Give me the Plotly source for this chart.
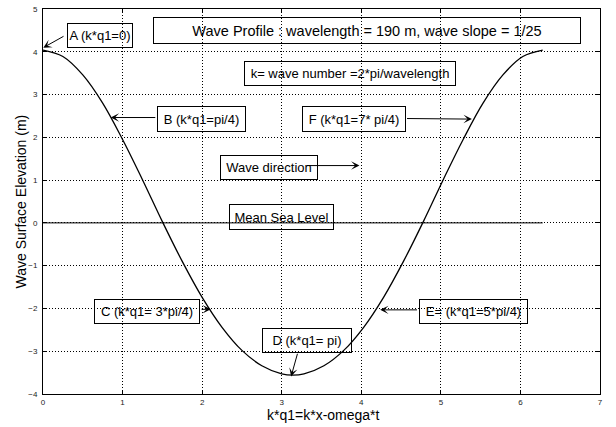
import plotly.graph_objects as go

# ---- data ----
kq1 = [0.00, 0.25, 0.50, 0.75, 1.00, 1.25, 1.50, 1.75, 2.00, 2.25, 2.50, 2.75, 3.00, 3.14,
       3.28, 3.53, 3.78, 4.03, 4.28, 4.53, 4.78, 5.03, 5.28, 5.53, 5.78, 6.03, 6.28]
elevation = [4.04, 3.89, 3.46, 2.80, 1.95, 1.01, 0.03, -0.90, -1.74, -2.44, -2.98, -3.34, -3.53, -3.56,
             -3.53, -3.34, -2.98, -2.44, -1.74, -0.90, 0.03, 1.01, 1.95, 2.80, 3.46, 3.89, 4.04]
msl_x = [0.0, 6.28]
msl_y = [0.0, 0.0]

x_ticks = [0, 1, 2, 3, 4, 5, 6, 7]
y_ticks = [-4, -3, -2, -1, 0, 1, 2, 3, 4, 5]

title_text = "Wave Profile : wavelength = 190 m, wave slope = 1/25"
label_texts = ["A (k*q1=0)", "k= wave number =2*pi/wavelength", "B (k*q1=pi/4)", "F (k*q1=7* pi/4)",
               "Wave direction", "Mean Sea Level", "C (k*q1= 3*pi/4)", "D (k*q1= pi)", "E= (k*q1=5*pi/4)"]
x_title = "k*q1=k*x-omega*t"
y_title = "Wave Surface Elevation (m)"

FONT = "Liberation Sans, Arial, Helvetica, sans-serif"

fig = go.Figure()
fig.add_trace(go.Scatter(x=msl_x, y=msl_y, mode="lines",
                         line=dict(color="black", width=1), hoverinfo="skip", showlegend=False))
fig.add_trace(go.Scatter(x=kq1, y=elevation, mode="lines",
                         line=dict(color="black", width=1.3, shape="spline", smoothing=1),
                         showlegend=False))

# text boxes: (text, x, y, width, height, size)
boxes = [
    (title_text, 4.07, 4.505, 426, 25, 14.5),
    (label_texts[0], 0.71, 4.389, 64, 23, 13),
    (label_texts[1], 3.854, 3.496, 210, 23, 13),
    (label_texts[2], 1.989, 2.428, 87, 24, 13),
    (label_texts[3], 3.904, 2.44, 102, 24, 13),
    (label_texts[4], 2.844, 1.301, 96, 23, 13),
    (label_texts[5], 2.993, 0.146, 103, 24, 13),
    (label_texts[6], 1.308, -2.072, 104, 23, 13),
    (label_texts[7], 3.323, -2.738, 88, 23, 13),
    (label_texts[8], 5.407, -2.072, 107, 23, 13),
]
annotations = []
for txt, bx, by, w, h, s in boxes:
    annotations.append(dict(text=txt, x=bx, y=by, xref="x", yref="y", showarrow=False,
                            xanchor="center", yanchor="middle", width=w, height=h,
                            bordercolor="black", borderwidth=1, borderpad=0,
                            bgcolor="rgba(0,0,0,0)", font=dict(family=FONT, size=s, color="black")))

# arrows: (tail x, tail y, head x, head y)
arrows = [
    (0.277, 4.381, 0.004, 4.097),
    (1.430, 2.463, 0.851, 2.463),
    (4.556, 2.440, 5.390, 2.426),
    (3.294, 1.340, 3.977, 1.340),
    (1.974, -2.020, 2.109, -2.020),
    (3.203, -3.025, 3.118, -3.591),
    (4.719, -2.033, 4.237, -2.033),
]
for tx, ty, hx, hy in arrows:
    annotations.append(dict(text="", x=hx, y=hy, ax=tx, ay=ty, xref="x", yref="y",
                            axref="x", ayref="y", showarrow=True, arrowhead=3,
                            arrowsize=1.4, arrowwidth=1, arrowcolor="black", standoff=0))

annotations.append(dict(text=x_title, x=0.503, y=-0.0557, xref="paper", yref="paper",
                        showarrow=False, xanchor="center", yanchor="middle",
                        font=dict(family=FONT, size=14, color="black")))
annotations.append(dict(text=y_title, x=-0.0395, y=0.5, xref="paper", yref="paper",
                        showarrow=False, xanchor="center", yanchor="middle", textangle=-90,
                        font=dict(family=FONT, size=14, color="black")))

axis_common = dict(showgrid=True, gridcolor="black", griddash="1px,2px", gridwidth=1,
                   showline=True, linecolor="black", linewidth=1, mirror="ticks",
                   ticks="inside", ticklen=4, tickcolor="black", zeroline=False,
                   tickfont=dict(family=FONT, size=8, color="#222"))

fig.update_layout(
    width=616, height=427,
    margin=dict(l=43, r=16, t=5, b=33),
    paper_bgcolor="white", plot_bgcolor="white",
    xaxis=dict(range=[0, 7], tickvals=x_ticks, ticklabelstandoff=0, **axis_common),
    yaxis=dict(range=[-4, 5], tickvals=y_ticks, ticklabelstandoff=3, **axis_common),
    annotations=annotations,
    showlegend=False,
    hovermode=False,
)

fig.write_html("out.html", config={"displayModeBar": False, "staticPlot": True},
               post_script="document.body.style.margin='0';")
